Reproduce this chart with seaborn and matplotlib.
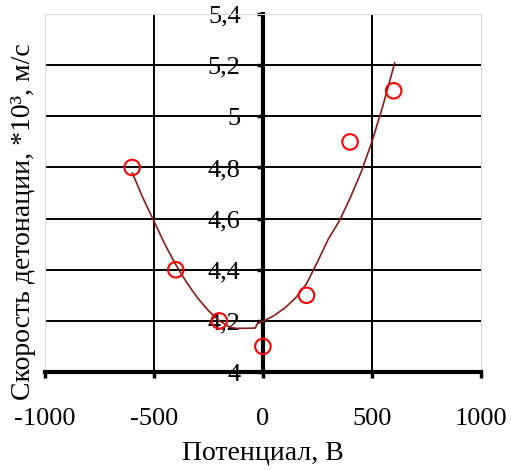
"""Detonation velocity vs. applied potential, with a trend curve."""

import matplotlib

matplotlib.use("Agg")
import matplotlib.pyplot as plt
import pandas as pd
import seaborn as sns

# measured points
potential = [-600, -400, -200, 0, 200, 400, 600]
velocity = [4.8, 4.4, 4.2, 4.1, 4.3, 4.9, 5.1]

# trend curve
trend_x = [-600, -550, -500, -450, -400, -350, -300, -250, -200, -150, -125, -75,
           -35, -25, 0, 50, 100, 150, 200, 250, 300, 350, 400, 450, 500, 550, 605]
trend_y = [4.78, 4.68, 4.59, 4.50, 4.42, 4.35, 4.29, 4.24, 4.20, 4.175, 4.171, 4.171,
           4.172, 4.19, 4.198, 4.22, 4.25, 4.29, 4.345, 4.43, 4.52, 4.59, 4.68, 4.78,
           4.90, 5.04, 5.21]

x_ticks = [-1000, -500, 0, 500, 1000]
x_tick_labels = ["-1000", "-500", "0", "500", "1000"]
y_ticks = [4.0, 4.2, 4.4, 4.6, 4.8, 5.0, 5.2, 5.4]
y_tick_labels = ["4", "4,2", "4,4", "4,6", "4,8", "5", "5,2", "5,4"]

x_label = "Потенциал, В"
y_label = "Скорость детонации, *10³, м/с"


def main() -> None:
    sns.set_theme(style="white")
    plt.rcParams["font.family"] = ["Liberation Serif", "DejaVu Serif"]
    plt.rcParams["text.color"] = "black"
    plt.rcParams["axes.labelcolor"] = "black"

    points = pd.DataFrame({"potential": potential, "velocity": velocity})
    trend = pd.DataFrame({"x": trend_x, "y": trend_y})

    figure = plt.figure(figsize=(5.11, 4.70), dpi=100)
    axis = figure.add_axes([0.088, 0.2085, 0.853, 0.7615])

    sns.lineplot(data=trend, x="x", y="y", ax=axis, sort=False, estimator=None,
                 color="#8b1a1a", linewidth=1.2, zorder=3)
    sns.scatterplot(data=points, x="potential", y="velocity", ax=axis, marker="o",
                    s=125, facecolors="none", edgecolor="#ff0000", linewidth=1.5,
                    zorder=4)

    axis.set_xlim(-1000, 1000)
    axis.set_ylim(4.0, 5.4)
    axis.set_xticks(x_ticks)
    axis.set_xticklabels(x_tick_labels)
    axis.set_yticks(y_ticks)
    axis.set_yticklabels(y_tick_labels)

    axis.grid(True, color="black", linewidth=1.4)
    axis.set_axisbelow(True)
    # no grid on the frame edges
    for ticks in (axis.xaxis.get_major_ticks(), axis.yaxis.get_major_ticks()):
        ticks[0].gridline.set_visible(False)
        ticks[-1].gridline.set_visible(False)

    axis.spines["left"].set_position(("data", 0))
    axis.spines["left"].set_linewidth(3)
    axis.spines["left"].set_color("black")
    axis.spines["bottom"].set_linewidth(3)
    axis.spines["bottom"].set_color("black")
    for side in ("top", "right"):
        axis.spines[side].set_color("#d9d9d9")
        axis.spines[side].set_linewidth(0.8)
    axis.axvline(-1000, color="#d9d9d9", linewidth=1.6, zorder=1)

    axis.tick_params(axis="both", direction="out", length=4, width=2.5,
                     colors="black", labelsize=19)
    axis.tick_params(axis="y", pad=12)
    axis.tick_params(axis="x", pad=22)
    axis.tick_params(left=True, bottom=True)

    axis.set_xlabel(x_label, fontsize=20, color="black")
    axis.set_ylabel(y_label, fontsize=20, color="black")
    axis.xaxis.set_label_coords(0.5, -0.225)
    axis.xaxis.label.set_va("center")
    axis.yaxis.set_label_coords(-0.05, 0.42)
    axis.yaxis.label.set_va("center")

    figure.savefig("out.png", dpi=100)
    plt.close(figure)


if __name__ == "__main__":
    main()
